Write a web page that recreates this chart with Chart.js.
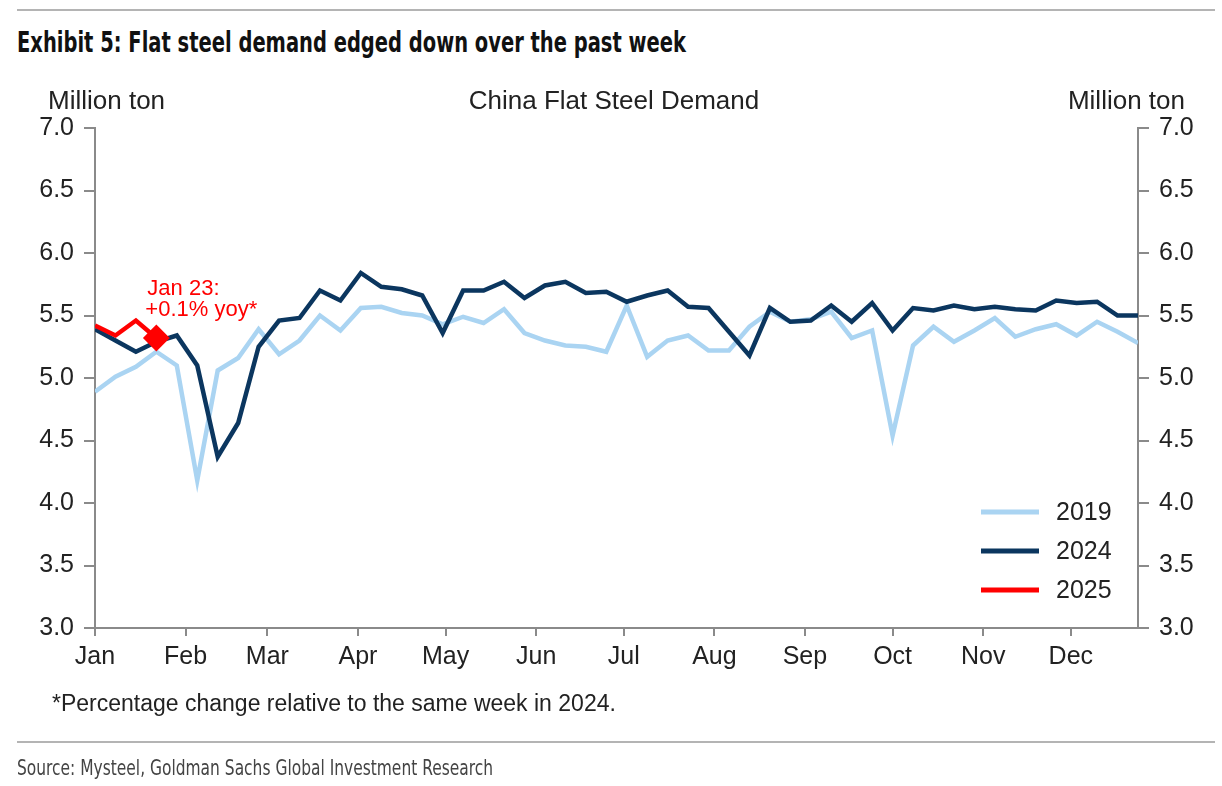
<!DOCTYPE html>
<html>
<head>
<meta charset="utf-8">
<script src="https://cdn.jsdelivr.net/npm/chart.js@4.4.1/dist/chart.umd.min.js"></script>
<style>
  html, body { margin: 0; padding: 0; background: #fff; }
  body { width: 1222px; height: 786px; position: relative; overflow: hidden; font-family: 'Liberation Sans', Arial, sans-serif; color: #222; }
  #wrap { position: absolute; left: 0; top: 0; width: 1222px; height: 786px; }
  .rule { position: absolute; left: 17px; right: 7px; height: 2px; background: #b4b4b4; }
  .narrow { font-family: 'Liberation Sans Narrow', 'DejaVu Sans Condensed', sans-serif; position: absolute; white-space: nowrap; transform-origin: 0 50%; }
  #title { left: 17px; top: 26px; font-size: 28px; font-weight: bold; color: #111; }
  #source { left: 17px; top: 756px; font-size: 21px; color: #444; }
  #note { position: absolute; left: 52px; top: 690px; font-size: 23px; color: #222; white-space: nowrap; }
  .hdr { position: absolute; top: 85px; font-size: 26px; color: #222; white-space: nowrap; }
</style>
</head>
<body>
<div class="rule" style="top:9px"></div>
<div id="title" class="narrow" data-w="669">Exhibit 5: Flat steel demand edged down over the past week</div>
<div id="wrap"><canvas id="steelChart"></canvas></div>
<div class="hdr" style="left:48px">Million ton</div>
<div class="hdr" style="left:614px; transform: translateX(-50%)">China Flat Steel Demand</div>
<div class="hdr" style="right:37px">Million ton</div>
<div id="note">*Percentage change relative to the same week in 2024.</div>
<div class="rule" style="top:741px"></div>
<div id="source" class="narrow" data-w="476">Source: Mysteel, Goldman Sachs Global Investment Research</div>

<script>
// squeeze the condensed headings to the width they have in the exhibit
document.querySelectorAll('.narrow').forEach(el => {
    const target = +el.dataset.w;
    const w = el.getBoundingClientRect().width;
    if (w > 0) el.style.transform = 'scaleX(' + (target / w) + ')';
});

// weekly flat steel demand, million ton (week index 0 = first week of Jan)
const seriesNames = ['2019', '2024', '2025'];
const demand2019 = [4.89, 5.01, 5.09, 5.21, 5.10, 4.18, 5.06, 5.16, 5.39, 5.19,
    5.30, 5.50, 5.38, 5.56, 5.57, 5.52, 5.50, 5.43, 5.49, 5.44,
    5.55, 5.36, 5.30, 5.26, 5.25, 5.21, 5.58, 5.17, 5.30, 5.34,
    5.22, 5.22, 5.41, 5.53, 5.45, 5.47, 5.53, 5.32, 5.38, 4.54,
    5.26, 5.41, 5.29, 5.38, 5.48, 5.33, 5.39, 5.43, 5.34, 5.45,
    5.37, 5.28];
const demand2024 = [5.39, 5.30, 5.21, 5.29, 5.34, 5.10, 4.37, 4.64, 5.25, 5.46,
    5.48, 5.70, 5.62, 5.84, 5.73, 5.71, 5.66, 5.36, 5.70, 5.70,
    5.77, 5.64, 5.74, 5.77, 5.68, 5.69, 5.61, 5.66, 5.70, 5.57,
    5.56, 5.37, 5.18, 5.56, 5.45, 5.46, 5.58, 5.45, 5.60, 5.38,
    5.56, 5.54, 5.58, 5.55, 5.57, 5.55, 5.54, 5.62, 5.60, 5.61,
    5.50, 5.50];
const demand2025 = [5.42, 5.34, 5.46, 5.32];
const annotationLines = ['Jan 23:', '+0.1% yoy*'];

const monthNames = ['Jan', 'Feb', 'Mar', 'Apr', 'May', 'Jun', 'Jul', 'Aug', 'Sep', 'Oct', 'Nov', 'Dec'];
const monthStartDay = [0, 31, 59, 90, 120, 151, 181, 212, 243, 273, 304, 334];
const yTicks = [3.0, 3.5, 4.0, 4.5, 5.0, 5.5, 6.0, 6.5, 7.0];

const colors = {
    light: '#aad4f2',
    navy: '#0b365f',
    red: '#ff0000',
    axis: '#8a8a8a',
    text: '#222222'
};

const toPoints = arr => arr.map((v, i) => ({ x: i, y: v }));
const monthTicks = monthStartDay.map(d => d / 7);

// legend + callout drawn on the canvas
const extrasPlugin = {
    id: 'extras',
    afterDatasetsDraw(chart) {
        const ctx = chart.ctx;
        ctx.save();
        // yoy callout next to the latest 2025 point
        const meta = chart.getDatasetMeta(0);
        const last = meta.data[meta.data.length - 1];
        ctx.fillStyle = colors.red;
        ctx.font = "22px 'Liberation Sans', Arial, sans-serif";
        ctx.textBaseline = 'middle';
        ctx.textAlign = 'left';
        ctx.fillText(annotationLines[0], last.x - 9, last.y - 49);
        ctx.fillText(annotationLines[1], last.x - 11, last.y - 28);

        // legend, bottom right of plot
        const lx = 981, ly = 512, gap = 39;
        const lineColors = [colors.light, colors.navy, colors.red];
        ctx.font = "25px 'Liberation Sans', Arial, sans-serif";
        seriesNames.forEach((name, i) => {
            const y = ly + i * gap;
            ctx.strokeStyle = lineColors[i];
            ctx.lineWidth = 5;
            ctx.beginPath();
            ctx.moveTo(lx, y);
            ctx.lineTo(lx + 58, y);
            ctx.stroke();
            ctx.fillStyle = colors.text;
            ctx.fillText(name, lx + 75, y + 1);
        });
        ctx.restore();
    }
};

const ctxSteel = document.getElementById('steelChart').getContext('2d');
const steelChart = new Chart(ctxSteel, {
    type: 'line',
    data: {
        datasets: [
            {
                label: seriesNames[2],
                data: toPoints(demand2025),
                borderColor: colors.red,
                backgroundColor: colors.red,
                borderWidth: 4.5,
                tension: 0,
                order: 0,
                pointStyle: 'rectRot',
                pointRadius: c => c.dataIndex === demand2025.length - 1 ? 12 : 0,
                pointBorderWidth: 2
            },
            {
                label: seriesNames[1],
                data: toPoints(demand2024),
                borderColor: colors.navy,
                borderWidth: 4.5,
                tension: 0,
                order: 1,
                pointRadius: 0
            },
            {
                label: seriesNames[0],
                data: toPoints(demand2019),
                borderColor: colors.light,
                borderWidth: 4.5,
                tension: 0,
                order: 2,
                pointRadius: 0
            }
        ]
    },
    options: {
        responsive: true,
        maintainAspectRatio: false,
        animation: false,
        layout: { padding: { top: 128, bottom: 108, left: 0, right: 0 } },
        plugins: {
            legend: { display: false },
            tooltip: { enabled: false }
        },
        scales: {
            x: {
                type: 'linear',
                min: 0,
                max: 51,
                afterBuildTicks: axis => { axis.ticks = monthTicks.map(v => ({ value: v })); },
                afterFit: axis => { axis.height = 50; },
                grid: { drawOnChartArea: false, drawTicks: true, tickLength: 8, color: colors.axis, lineWidth: 2 },
                border: { color: colors.axis, width: 2 },
                ticks: {
                    autoSkip: false,
                    maxRotation: 0,
                    padding: 6,
                    color: colors.text,
                    font: { family: "'Liberation Sans', Arial, sans-serif", size: 25 },
                    callback: v => monthNames[monthTicks.findIndex(t => Math.abs(t - v) < 1e-6)]
                }
            },
            y: {
                position: 'left',
                min: 3,
                max: 7,
                afterBuildTicks: axis => { axis.ticks = yTicks.map(v => ({ value: v })); },
                afterFit: axis => { axis.width = 95; },
                grid: { drawOnChartArea: false, tickLength: 11, color: colors.axis, lineWidth: 2 },
                border: { color: colors.axis, width: 2 },
                ticks: {
                    padding: 10,
                    color: colors.text,
                    font: { family: "'Liberation Sans', Arial, sans-serif", size: 25 },
                    callback: v => v.toFixed(1)
                }
            },
            y2: {
                position: 'right',
                min: 3,
                max: 7,
                afterBuildTicks: axis => { axis.ticks = yTicks.map(v => ({ value: v })); },
                afterFit: axis => { axis.width = 84; },
                grid: { drawOnChartArea: false, tickLength: 11, color: colors.axis, lineWidth: 2 },
                border: { color: colors.axis, width: 2 },
                ticks: {
                    padding: 10,
                    color: colors.text,
                    font: { family: "'Liberation Sans', Arial, sans-serif", size: 25 },
                    callback: v => v.toFixed(1)
                }
            }
        }
    },
    plugins: [extrasPlugin]
});
</script>
</body>
</html>
